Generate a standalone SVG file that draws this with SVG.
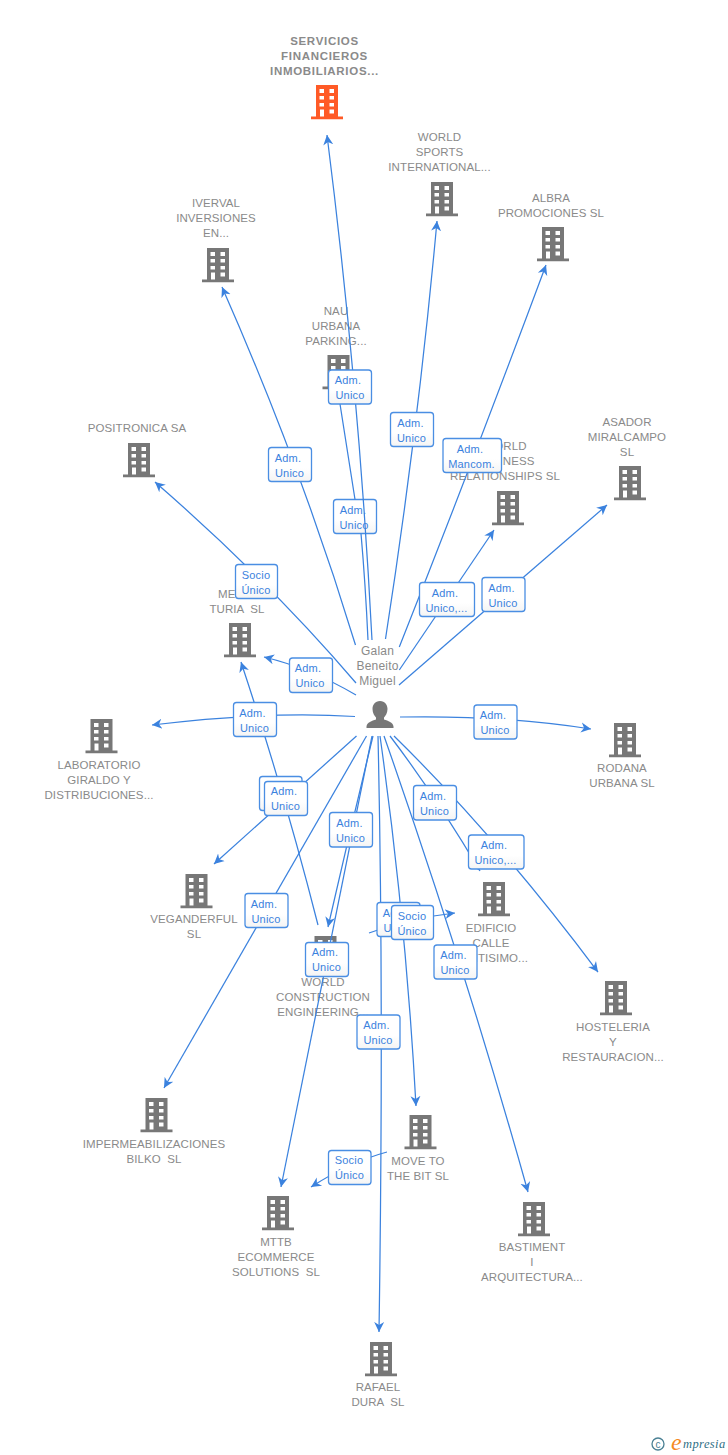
<svg xmlns="http://www.w3.org/2000/svg" width="728" height="1455" viewBox="0 0 728 1455">
<style>
text{font-family:"Liberation Sans",Arial,sans-serif;white-space:pre}
.n{font-size:11.5px;fill:#8a8a8a;text-anchor:middle;letter-spacing:.1px}
.nb{font-weight:bold;letter-spacing:.7px}
.p{font-size:12px;fill:#8a8a8a;text-anchor:middle;letter-spacing:.2px}
.c{fill:none;stroke:#3b82de;stroke-width:1.25;marker-end:url(#a)}
.c2{fill:none;stroke:#3b82de;stroke-width:1.25}
.b rect{fill:url(#g);stroke:#4a8ee3;stroke-width:1.3}
.b text{font-size:11px;fill:#3b82de;text-anchor:middle;letter-spacing:.2px}
</style>
<defs>
<linearGradient id="g" x1="0" y1="0" x2="0" y2="1"><stop offset="0" stop-color="#fff"/><stop offset=".6" stop-color="#fff"/><stop offset="1" stop-color="#f4f4f4"/></linearGradient>
<marker id="a" markerUnits="userSpaceOnUse" markerWidth="12" markerHeight="12" viewBox="0 0 12 12" refX="10" refY="6" orient="auto"><path d="M10,6 L0,1 L3,6 L0,11 Z" fill="#3b82de"/></marker>
<symbol id="bld" viewBox="0 0 32 35" width="32" height="35" overflow="visible">
<path fill-rule="evenodd" d="M5,0H27V31.500H32V34.200H0V31.500H5ZM8.500,4V8H13V4ZM18.500,4V8H23V4ZM8.500,11V14.500H13V11ZM18.500,11V14.500H23V11ZM8.500,18V21.500H13V18ZM18.500,18V21.500H23V18ZM9,24.500V31.500H13V24.500ZM18.500,24.500V28.500H23V24.500Z"/>
</symbol>
</defs>
<rect width="728" height="1455" fill="#fff"/>
<g id="nodes">
<g id="n-servicios" fill="#ff5a26"><use href="#bld" x="311" y="85"/><text class="n nb" x="324.500"><tspan x="324.500" y="45">SERVICIOS</tspan><tspan x="324.500" y="60">FINANCIEROS</tspan><tspan x="324.500" y="75">INMOBILIARIOS...</tspan></text></g>
<g id="n-sports" fill="#777"><use href="#bld" x="426" y="182"/><text class="n"><tspan x="439.500" y="141">WORLD</tspan><tspan x="439.500" y="156">SPORTS</tspan><tspan x="439.500" y="171">INTERNATIONAL...</tspan></text></g>
<g id="n-albra" fill="#777"><use href="#bld" x="537" y="227"/><text class="n"><tspan x="551" y="202">ALBRA</tspan><tspan x="551" y="217">PROMOCIONES SL</tspan></text></g>
<g id="n-iverval" fill="#777"><use href="#bld" x="202" y="248"/><text class="n"><tspan x="216" y="207">IVERVAL</tspan><tspan x="216" y="222">INVERSIONES</tspan><tspan x="216" y="237">EN...</tspan></text></g>
<g id="n-nau" fill="#777"><use href="#bld" x="322.500" y="355"/><text class="n"><tspan x="336" y="315">NAU</tspan><tspan x="336" y="330">URBANA</tspan><tspan x="336" y="345">PARKING...</tspan></text></g>
<g id="n-positronica" fill="#777"><use href="#bld" x="123" y="443"/><text class="n" x="137" y="432">POSITRONICA SA</text></g>
<g id="n-business" fill="#777"><use href="#bld" x="492" y="491"/><text class="n"><tspan x="505" y="450">WORLD</tspan><tspan x="505" y="465">BUSINESS</tspan><tspan x="505" y="480">RELATIONSHIPS SL</tspan></text></g>
<g id="n-asador" fill="#777"><use href="#bld" x="614" y="466"/><text class="n"><tspan x="627" y="426">ASADOR</tspan><tspan x="627" y="441">MIRALCAMPO</tspan><tspan x="627" y="456">SL</tspan></text></g>
<g id="n-metal" fill="#777"><use href="#bld" x="224" y="623"/><text class="n"><tspan x="237" y="598">METAL</tspan><tspan x="237" y="613">TURIA  SL</tspan></text></g>
<g id="n-laboratorio" fill="#777"><use href="#bld" x="85.500" y="719"/><text class="n"><tspan x="99" y="769">LABORATORIO</tspan><tspan x="99" y="784">GIRALDO Y</tspan><tspan x="99" y="799">DISTRIBUCIONES...</tspan></text></g>
<g id="n-rodana" fill="#777"><use href="#bld" x="609" y="723"/><text class="n"><tspan x="622" y="772">RODANA</tspan><tspan x="622" y="787">URBANA SL</tspan></text></g>
<g id="n-veganderful" fill="#777"><use href="#bld" x="180.500" y="874"/><text class="n"><tspan x="194" y="923">VEGANDERFUL</tspan><tspan x="194" y="938">SL</tspan></text></g>
<g id="n-edificio" fill="#777"><use href="#bld" x="478" y="882"/><text class="n"><tspan x="491" y="932">EDIFICIO</tspan><tspan x="491" y="947">CALLE</tspan><tspan x="491" y="962">SANTISIMO...</tspan></text></g>
<g id="n-hosteleria" fill="#777"><use href="#bld" x="600" y="981"/><text class="n"><tspan x="613" y="1031">HOSTELERIA</tspan><tspan x="613" y="1046">Y</tspan><tspan x="613" y="1061">RESTAURACION...</tspan></text></g>
<g id="n-construction" fill="#777"><use href="#bld" x="309.500" y="936"/><text class="n"><tspan x="323" y="986">WORLD</tspan><tspan x="323" y="1001">CONSTRUCTION</tspan><tspan x="323" y="1016">ENGINEERING...</tspan></text></g>
<g id="n-impermeab" fill="#777"><use href="#bld" x="140.500" y="1098"/><text class="n"><tspan x="154" y="1148">IMPERMEABILIZACIONES</tspan><tspan x="154" y="1163">BILKO  SL</tspan></text></g>
<g id="n-moveto" fill="#777"><use href="#bld" x="404.500" y="1115"/><text class="n"><tspan x="418" y="1165">MOVE TO</tspan><tspan x="418" y="1180">THE BIT SL</tspan></text></g>
<g id="n-mttb" fill="#777"><use href="#bld" x="262" y="1196"/><text class="n"><tspan x="276" y="1246">MTTB</tspan><tspan x="276" y="1261">ECOMMERCE</tspan><tspan x="276" y="1276">SOLUTIONS  SL</tspan></text></g>
<g id="n-bastiment" fill="#777"><use href="#bld" x="518" y="1202"/><text class="n"><tspan x="532" y="1251">BASTIMENT</tspan><tspan x="532" y="1266">I</tspan><tspan x="532" y="1281">ARQUITECTURA...</tspan></text></g>
<g id="n-rafael" fill="#777"><use href="#bld" x="365" y="1342"/><text class="n"><tspan x="378" y="1391">RAFAEL</tspan><tspan x="378" y="1406">DURA  SL</tspan></text></g>
<g id="n-person" fill="#777"><path d="M380,701c-5,0-7.500,4-7.500,8c0,4 2,7 3.500,8.500v2c-4,1.500-9,2.500-9.500,7v1.500h27v-1.500c-.5-4.500-5.500-5.500-9.500-7v-2c1.500-1.500 3.500-4.500 3.500-8.500c0-4-2.500-8-7.500-8Z"/><text class="p"><tspan x="377.500" y="655">Galan</tspan><tspan x="377.500" y="670">Beneito</tspan><tspan x="377.500" y="685">Miguel</tspan></text></g>
</g>
<g id="label-back" class="b">
<g><rect x="333.500" y="499.500" width="43" height="34" rx="3"/><text><tspan x="353" y="514">Adm.</tspan><tspan x="354" y="529">Unico</tspan></text></g>
</g>
<g id="connectors">
<path class="c" d="M372,640Q359,387.500 327,135"/>
<path class="c2" d="M368,640Q365.500,585 361,533.500M355,499.500L340,404"/>
<path class="c" d="M355.500,645Q301,466 222,287"/>
<path class="c" d="M385.500,639Q418,430 437,221"/>
<path class="c" d="M399.300,647Q475,456 546,265"/>
<path class="c" d="M399.300,670Q447,600 494,530"/>
<path class="c" d="M399,685Q503,595 607,505"/>
<path class="c" d="M356,683Q270.500,582.500 155,482"/>
<path class="c" d="M356,695Q310,668 264,657"/>
<path class="c" d="M355,716.500Q265,711 152,725"/>
<path class="c" d="M318,925Q284.500,793 241,662"/>
<path class="c" d="M356.500,736Q285,800 214,864"/>
<path class="c" d="M366.500,736Q266,912 164,1088"/>
<path class="c" d="M373,736Q350,831 328,927"/>
<path class="c" d="M372,736Q326.500,961 281,1187"/>
<path class="c" d="M378,736Q384,1000 379,1332"/>
<path class="c" d="M380,736Q406,921 416,1106"/>
<path class="c" d="M384,736Q464,964 528,1192"/>
<path class="c" d="M390,736Q435,795 480,871"/>
<path class="c" d="M394,736Q496,836 598,972"/>
<path class="c" d="M400,717Q500,715 591,729"/>
<path class="c" d="M369,933Q410,918 455,913"/>
<path class="c" d="M387,1152Q350,1162 311,1187"/>
</g>
<g id="labels" class="b">
<g><rect x="328.500" y="370" width="43" height="34" rx="3"/><text><tspan x="348" y="384">Adm.</tspan><tspan x="350" y="399">Unico</tspan></text></g>
<g><rect x="390.500" y="412.500" width="43" height="34" rx="3"/><text><tspan x="410.500" y="427">Adm.</tspan><tspan x="411.500" y="442">Unico</tspan></text></g>
<g><rect x="443" y="438.500" width="58.500" height="34" rx="3"/><text><tspan x="470" y="453">Adm.</tspan><tspan x="471.500" y="468">Mancom.</tspan></text></g>
<g><rect x="268.500" y="447.500" width="43" height="34" rx="3"/><text><tspan x="288" y="462">Adm.</tspan><tspan x="289.500" y="477">Unico</tspan></text></g>
<g><rect x="235.500" y="564.500" width="42" height="34" rx="3"/><text><tspan x="256" y="579">Socio</tspan><tspan x="256" y="594">Único</tspan></text></g>
<g><rect x="419.500" y="582.500" width="55" height="34" rx="3"/><text><tspan x="445" y="597">Adm.</tspan><tspan x="446.500" y="612">Unico,...</tspan></text></g>
<g><rect x="482" y="577.500" width="43" height="34" rx="3"/><text><tspan x="501.500" y="592">Adm.</tspan><tspan x="503" y="607">Unico</tspan></text></g>
<g><rect x="289.500" y="658" width="43" height="34.500" rx="3"/><text><tspan x="308" y="672">Adm.</tspan><tspan x="310" y="687">Unico</tspan></text></g>
<g><rect x="233.500" y="702.500" width="43" height="34" rx="3"/><text><tspan x="252.500" y="717">Adm.</tspan><tspan x="254.500" y="732">Unico</tspan></text></g>
<g><rect x="474" y="705" width="43" height="34" rx="3"/><text><tspan x="493" y="719">Adm.</tspan><tspan x="495" y="734">Unico</tspan></text></g>
<g><rect x="259.500" y="776.500" width="42.500" height="34" rx="3"/></g>
<g><rect x="264.500" y="781.500" width="43" height="34" rx="3"/><text><tspan x="284" y="795">Adm.</tspan><tspan x="285.500" y="810">Unico</tspan></text></g>
<g><rect x="329.500" y="812.500" width="43" height="34.500" rx="3"/><text><tspan x="349.500" y="827">Adm.</tspan><tspan x="350.500" y="842">Unico</tspan></text></g>
<g><rect x="413.500" y="785.500" width="43" height="34.500" rx="3"/><text><tspan x="433" y="800">Adm.</tspan><tspan x="434.500" y="815">Unico</tspan></text></g>
<g><rect x="468.500" y="835" width="55.500" height="34" rx="3"/><text><tspan x="494" y="849">Adm.</tspan><tspan x="495.500" y="864">Unico,...</tspan></text></g>
<g><rect x="245" y="893.500" width="43" height="34" rx="3"/><text><tspan x="264" y="908">Adm.</tspan><tspan x="266" y="923">Unico</tspan></text></g>
<g><rect x="377" y="902.500" width="43" height="34" rx="3"/><text><tspan x="396" y="917">Adm.</tspan><tspan x="398" y="932">Unico</tspan></text></g>
<g><rect x="391.500" y="905.500" width="42" height="34" rx="3"/><text><tspan x="412" y="920">Socio</tspan><tspan x="412" y="935">Único</tspan></text></g>
<g><rect x="305.500" y="942.500" width="43" height="34" rx="3"/><text><tspan x="325" y="956">Adm.</tspan><tspan x="326.500" y="971">Unico</tspan></text></g>
<g><rect x="434" y="945" width="43" height="34" rx="3"/><text><tspan x="453.500" y="959">Adm.</tspan><tspan x="455" y="974">Unico</tspan></text></g>
<g><rect x="357" y="1015" width="43" height="34" rx="3"/><text><tspan x="376.500" y="1029">Adm.</tspan><tspan x="378" y="1044">Unico</tspan></text></g>
<g><rect x="328.500" y="1150.500" width="42.500" height="34" rx="3"/><text><tspan x="349" y="1164">Socio</tspan><tspan x="349.500" y="1179">Único</tspan></text></g>
</g>
<g id="logo"><circle cx="658" cy="1444" r="6" fill="none" stroke="#4a8094" stroke-width="1.300"/><text x="658" y="1447.500" font-size="10" fill="#4a8094" text-anchor="middle">c</text><text x="671" y="1450" font-size="24" fill="#f58a1f" style="font-family:'Liberation Serif',serif;font-style:italic">e</text><text x="683" y="1448" font-size="12.500" fill="#2f6f85" style="font-family:'Liberation Serif',serif;font-style:italic;letter-spacing:.4px">mpresia</text></g>
</svg>
